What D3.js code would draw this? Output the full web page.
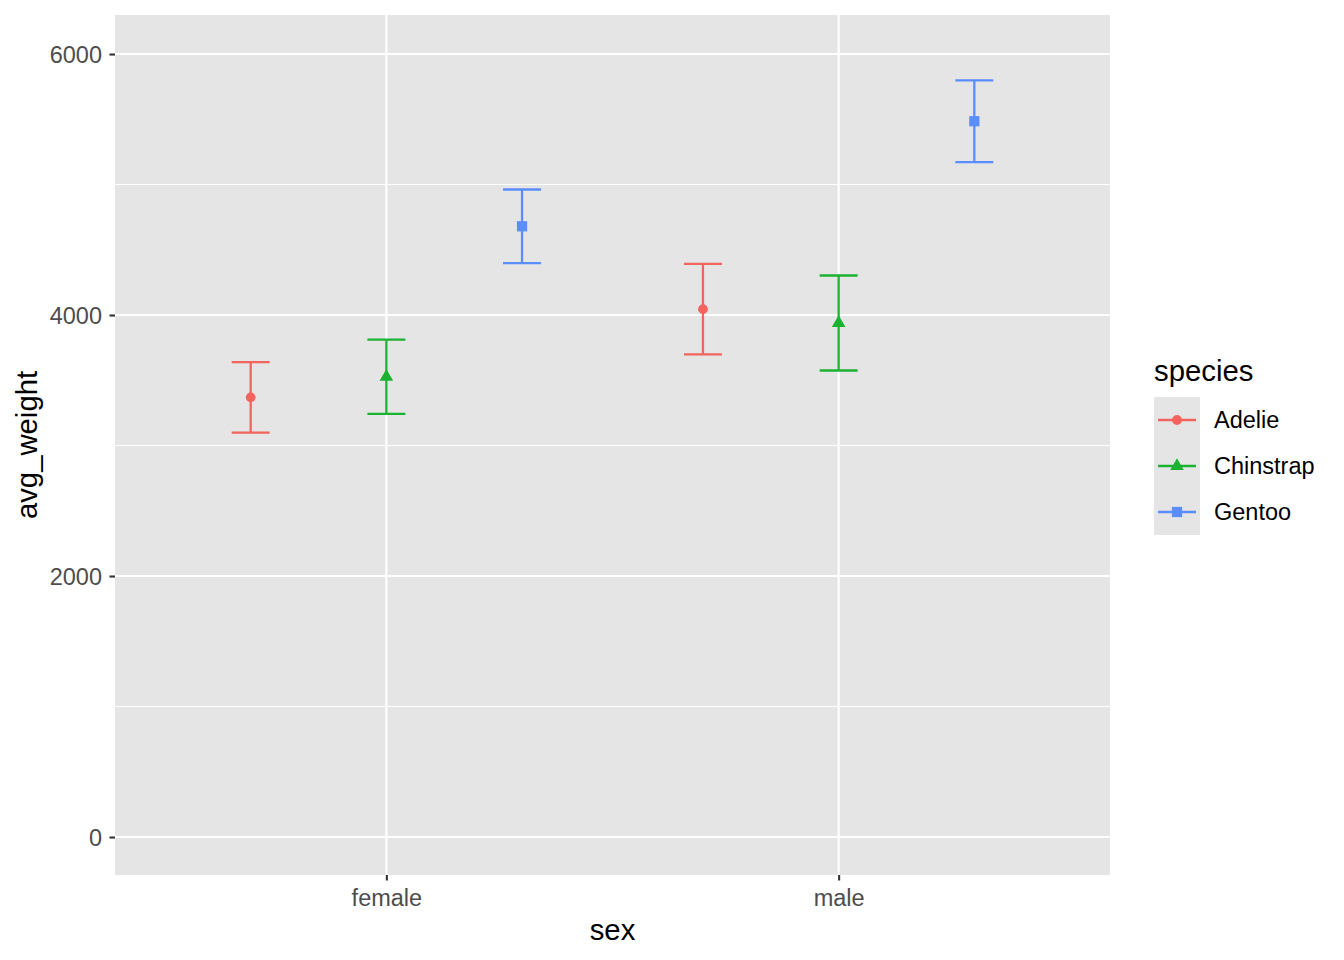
<!DOCTYPE html>
<html>
<head>
<meta charset="utf-8">
<script src="https://cdn.jsdelivr.net/npm/d3@7"></script>
<style>
  body { margin: 0; background: #fff; }
  text { font-family: "Liberation Sans", Arial, Helvetica, sans-serif; }
</style>
</head>
<body>
<div class="chart"></div>
<script>
// data
var sexes = ["female", "male"];
var species = ["Adelie", "Chinstrap", "Gentoo"];
var colors = ["#F2645D", "#1BB232", "#5B8DFF"];
var yTicks = [0, 2000, 4000, 6000];
var yMinor = [1000, 3000, 5000];

// mean and sd per species, order = sexes
var avgAdelie = [3369, 4045];
var sdAdelie = [270, 347];
var avgChinstrap = [3527, 3939];
var sdChinstrap = [285, 364];
var avgGentoo = [4680, 5485];
var sdGentoo = [282, 313];

var avgs = [avgAdelie, avgChinstrap, avgGentoo];
var sds = [sdAdelie, sdChinstrap, sdGentoo];

var rows = [];
species.forEach(function (sp, i) {
  sexes.forEach(function (sx, j) {
    rows.push({ species: sp, sex: sx, avg: avgs[i][j], sd: sds[i][j], k: i });
  });
});

var svgWidth = 1344;
var svgHeight = 960;

// panel box
var panel = { left: 115, right: 1110, top: 15, bottom: 875 };

var tickFont = "23.5px";
var titleFont = "29.3px";
var panelFill = "#E5E5E5";

var svg = d3
  .select(".chart")
  .append("svg")
  .attr("width", svgWidth)
  .attr("height", svgHeight);

// discrete x with ggplot's 0.6 expansion
var xStep = (panel.right - panel.left) / (sexes.length - 1 + 1.2);
var xScale = d3
  .scalePoint()
  .domain(sexes)
  .range([panel.left + 0.6 * xStep, panel.right - 0.6 * xStep]);

var dodge = 0.3 * xStep; // dodge width 0.9 split in 3

var yScale = d3
  .scaleLinear()
  .domain([-291, 6299])
  .range([panel.bottom, panel.top]);

// panel background
svg
  .append("rect")
  .attr("x", panel.left)
  .attr("y", panel.top)
  .attr("width", panel.right - panel.left)
  .attr("height", panel.bottom - panel.top)
  .attr("fill", panelFill);

// minor gridlines
svg
  .selectAll(".minor")
  .data(yMinor)
  .enter()
  .append("line")
  .attr("x1", panel.left)
  .attr("x2", panel.right)
  .attr("y1", (d) => yScale(d))
  .attr("y2", (d) => yScale(d))
  .attr("stroke", "#fff")
  .attr("stroke-width", 1.1);

// major gridlines
svg
  .selectAll(".majorY")
  .data(yTicks)
  .enter()
  .append("line")
  .attr("x1", panel.left)
  .attr("x2", panel.right)
  .attr("y1", (d) => yScale(d))
  .attr("y2", (d) => yScale(d))
  .attr("stroke", "#fff")
  .attr("stroke-width", 2.1);

svg
  .selectAll(".majorX")
  .data(sexes)
  .enter()
  .append("line")
  .attr("x1", (d) => xScale(d))
  .attr("x2", (d) => xScale(d))
  .attr("y1", panel.top)
  .attr("y2", panel.bottom)
  .attr("stroke", "#fff")
  .attr("stroke-width", 2.1);

// axes
var leftAxis = d3
  .axisLeft(yScale)
  .tickValues(yTicks)
  .tickFormat(d3.format("d"))
  .tickSize(5.5)
  .tickPadding(7.5);
var yAxis = svg
  .append("g")
  .attr("transform", `translate(${panel.left}, 0)`)
  .call(leftAxis);

var bottomAxis = d3.axisBottom(xScale).tickSize(5.5).tickPadding(8.8);
var xAxis = svg
  .append("g")
  .attr("transform", `translate(0, ${panel.bottom})`)
  .call(bottomAxis);

[yAxis, xAxis].forEach(function (ax) {
  ax.select(".domain").remove();
  ax.selectAll(".tick line").attr("stroke", "#333333").attr("stroke-width", 2.1);
  ax.selectAll(".tick text")
    .attr("fill", "#4D4D4D")
    .style("font-size", tickFont)
    .style("font-family", '"Liberation Sans", Arial, sans-serif');
});
yAxis.selectAll(".tick text").attr("dy", "0.36em");

// axis titles
svg
  .append("text")
  .attr("x", (panel.left + panel.right) / 2)
  .attr("y", 940)
  .attr("text-anchor", "middle")
  .style("font-size", titleFont)
  .text("sex");

svg
  .append("text")
  .attr("transform", `translate(37, ${(panel.top + panel.bottom) / 2}) rotate(-90)`)
  .attr("text-anchor", "middle")
  .style("font-size", titleFont)
  .text("avg_weight");

// error bars
var capHalf = 19;
var shapes = [d3.symbolCircle, d3.symbolTriangle, d3.symbolSquare];
var shapeSizes = [75, 80, 105];

function cx(d) {
  return xScale(d.sex) + (d.k - 1) * dodge;
}

var bars = svg
  .selectAll(".bar")
  .data(rows)
  .enter()
  .append("g")
  .attr("stroke", (d) => colors[d.k])
  .attr("stroke-width", 2.3)
  .attr("fill", "none");

bars
  .append("line")
  .attr("x1", cx)
  .attr("x2", cx)
  .attr("y1", (d) => yScale(d.avg - d.sd))
  .attr("y2", (d) => yScale(d.avg + d.sd));

bars
  .append("line")
  .attr("x1", (d) => cx(d) - capHalf)
  .attr("x2", (d) => cx(d) + capHalf)
  .attr("y1", (d) => yScale(d.avg + d.sd))
  .attr("y2", (d) => yScale(d.avg + d.sd));

bars
  .append("line")
  .attr("x1", (d) => cx(d) - capHalf)
  .attr("x2", (d) => cx(d) + capHalf)
  .attr("y1", (d) => yScale(d.avg - d.sd))
  .attr("y2", (d) => yScale(d.avg - d.sd));

svg
  .selectAll(".pt")
  .data(rows)
  .enter()
  .append("path")
  .attr("d", (d) => d3.symbol().type(shapes[d.k]).size(shapeSizes[d.k])())
  .attr("transform", (d) => `translate(${cx(d)}, ${yScale(d.avg)})`)
  .attr("fill", (d) => colors[d.k]);

// legend
var legend = svg.append("g").attr("transform", "translate(1154, 0)");

legend
  .append("text")
  .attr("x", 0)
  .attr("y", 381)
  .style("font-size", titleFont)
  .text("species");

var keySize = 46;
var keyTop = 397;

legend
  .append("rect")
  .attr("x", 0)
  .attr("y", keyTop)
  .attr("width", keySize)
  .attr("height", keySize * species.length)
  .attr("fill", panelFill);

var keys = legend
  .selectAll(".key")
  .data(species)
  .enter()
  .append("g")
  .attr("transform", (d, i) => `translate(0, ${keyTop + keySize * i + keySize / 2})`);

keys
  .append("line")
  .attr("x1", 4)
  .attr("x2", keySize - 4)
  .attr("stroke", (d, i) => colors[i])
  .attr("stroke-width", 2.3);

keys
  .append("path")
  .attr("d", (d, i) => d3.symbol().type(shapes[i]).size(shapeSizes[i])())
  .attr("transform", `translate(${keySize / 2}, 0)`)
  .attr("fill", (d, i) => colors[i]);

keys
  .append("text")
  .attr("x", 60)
  .attr("dy", "0.36em")
  .style("font-size", tickFont)
  .text((d) => d);
</script>
</body>
</html>
